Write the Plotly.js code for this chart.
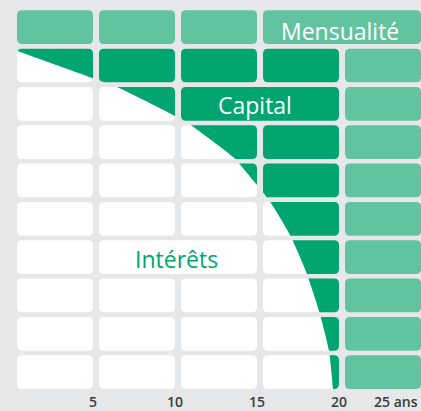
<!DOCTYPE html>
<html>
<head>
<meta charset="utf-8">
<script src="https://cdn.plot.ly/plotly-3.0.1.min.js"></script>
<style>html,body{margin:0;padding:0;background:#e6e7e8;}#chart{width:421px;height:411px;}</style>
</head>
<body>
<div id="chart"></div>
<script>
// ---- data ----
const tickYears = [5, 10, 15, 20, 25];
const tickLabels = ['5', '10', '15', '20', '25 ans'];
// share of the monthly payment going to interest (in row units, 9 rows = whole payment)
const curveYears = [0, 5.0, 6.46, 10.06, 11.04, 13.66, 14.0, 15.0, 15.85, 17.01, 17.93, 18.78, 19.39, 19.63];
const curveLevel = [8.88, 8.11, 7.88, 7.11, 6.86, 6.01, 5.84, 5.32, 4.85, 4.02, 3.13, 2.04, 0.99, 0];
// grid of cells: rows numbered from bottom (0) to top (9), columns 1..5 (5 years each)
const splitRows = [0, 1, 2, 3, 4, 5, 6, 7, 8];
const splitCols = [1, 2, 3, 4];
const mergedCells = [{row: 7, from: 3, to: 4}, {row: 3, from: 2, to: 3}];
const paymentRow = 9;
const paymentSpans = [[1, 1], [2, 2], [3, 3], [4, 5]];
const extraCol = 5;
const labels = [
  {text: 'Mensualité', x: 20.05, y: 9.35, color: '#ffffff'},
  {text: 'Capital', x: 14.9, y: 7.40, color: '#ffffff'},
  {text: 'Intérêts', x: 10.1, y: 3.39, color: '#00a56f'}
];

// ---- style ----
const gray = '#e6e7e8', dark = '#00a56f', light = '#62c3a1', white = '#ffffff';
const W = 421, H = 411, B = 20;
const pxPerYear = 16.4, pxPerRow = 38.33;
const xr = [-11 / pxPerYear, 25];
const yr = [-2 / pxPerRow, 389 / pxPerRow];
const gx = 6 / pxPerYear, gy = 4.6 / pxPerRow;
const rad = 5, ax = rad / pxPerYear, ay = rad / pxPerRow;

function cellBox(row, c0, c1) {
  return [5 * (c0 - 1) + gx, 5 * c1, row, row + 1 - gy];
}
function rr(b) {
  const [x0, x1, y0, y1] = b;
  return `M${x0 + ax},${y1} L${x1 - ax},${y1} Q${x1},${y1} ${x1},${y1 - ay} L${x1},${y0 + ay} Q${x1},${y0} ${x1 - ax},${y0} L${x0 + ax},${y0} Q${x0},${y0} ${x0},${y0 + ay} L${x0},${y1 - ay} Q${x0},${y1} ${x0 + ax},${y1} Z`;
}

// holes of the mask: the cells where capital / interest are shown
const holes = [];
splitRows.forEach(r => {
  const m = mergedCells.find(mc => mc.row === r);
  splitCols.forEach(c => {
    if (m && c === m.to) return;
    if (m && c === m.from) holes.push(cellBox(r, m.from, m.to));
    else holes.push(cellBox(r, c, c));
  });
});
const outer = `M-5,-5 L30,-5 L30,15 L-5,15 Z `;

const shapes = [];
shapes.push({type: 'rect', xref: 'x', yref: 'y', x0: gx, x1: 20, y0: 0, y1: 9, fillcolor: dark, line: {width: 0}, layer: 'below'});
shapes.push({type: 'path', xref: 'x', yref: 'y', path: outer + holes.map(h => rr(h)).join(' '), fillcolor: gray, fillrule: 'evenodd', line: {width: 0}, layer: 'above'});
paymentSpans.forEach(s => {
  shapes.push({type: 'path', xref: 'x', yref: 'y', path: rr(cellBox(paymentRow, s[0], s[1])), fillcolor: light, line: {width: 0}, layer: 'above'});
});
splitRows.forEach(r => {
  shapes.push({type: 'path', xref: 'x', yref: 'y', path: rr(cellBox(r, extraCol, extraCol)), fillcolor: light, line: {width: 0}, layer: 'above'});
});

const annotations = labels.map(l => ({
  text: l.text, x: l.x, y: l.y, xref: 'x', yref: 'y', showarrow: false,
  xanchor: 'center', yanchor: 'middle',
  font: {family: 'Open Sans', size: 23, color: l.color, weight: 500}
}));
tickYears.forEach((t, i) => {
  const last = i === tickYears.length - 1;
  annotations.push({
    text: tickLabels[i], x: t, xref: 'x', y: -10 / (H - B), yref: 'paper', showarrow: false,
    xanchor: last ? 'right' : 'center', yanchor: 'middle', xshift: last ? -2 : 0, borderpad: 0,
    font: {family: 'Open Sans', size: 14, color: '#3c3c3c', weight: 600}
  });
});

const trace = {
  x: curveYears, y: curveLevel, type: 'scatter', mode: 'lines',
  line: {width: 0, color: white, shape: 'spline', smoothing: 0.6},
  fill: 'tozeroy', fillcolor: white, hoverinfo: 'skip'
};

Plotly.newPlot('chart', [trace], {
  width: W, height: H,
  margin: {l: 0, r: 0, t: 0, b: B, pad: 0},
  paper_bgcolor: gray, plot_bgcolor: gray,
  showlegend: false,
  xaxis: {range: xr, visible: false, fixedrange: true},
  yaxis: {range: yr, visible: false, fixedrange: true},
  shapes: shapes, annotations: annotations
}, {displayModeBar: false, staticPlot: true});
</script>
</body>
</html>
